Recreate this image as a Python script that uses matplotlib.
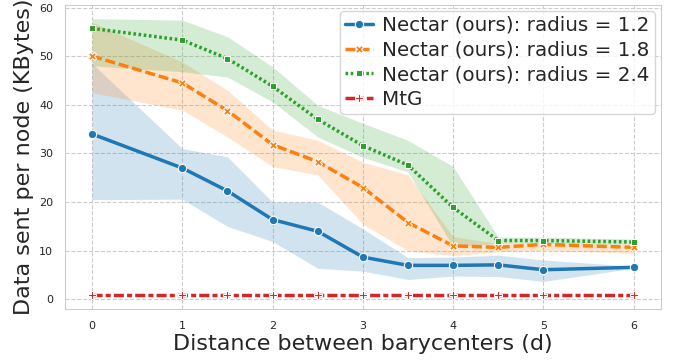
import matplotlib
matplotlib.use('Agg')
import matplotlib.pyplot as plt
import seaborn as sns

distance = [0, 1, 1.5, 2, 2.5, 3, 3.5, 4, 4.5, 5, 6]

r12_mean = [34.0, 27.0, 22.3, 16.4, 14.0, 8.7, 7.0, 7.0, 7.1, 6.1, 6.6]
r12_low = [20.5, 20.6, 15.0, 11.9, 6.4, 5.8, 4.1, 4.8, 4.7, 3.7, 6.4]
r12_high = [48.5, 31.0, 29.3, 20.0, 20.0, 14.5, 8.6, 8.7, 9.1, 8.1, 6.8]

r18_mean = [50.0, 44.5, 38.8, 31.8, 28.3, 23.0, 15.8, 11.0, 10.7, 11.3, 10.7]
r18_low = [42.5, 38.9, 33.4, 27.3, 25.6, 15.5, 10.0, 9.0, 9.8, 10.1, 9.5]
r18_high = [57.0, 48.8, 43.0, 34.8, 32.7, 28.2, 25.6, 12.9, 11.5, 11.6, 11.3]

r24_mean = [55.7, 53.3, 49.5, 43.8, 37.0, 31.6, 27.6, 18.9, 12.1, 12.1, 11.8]
r24_low = [48.0, 46.8, 45.7, 40.6, 33.4, 29.2, 26.2, 10.8, 11.5, 11.5, 11.3]
r24_high = [57.7, 57.4, 54.0, 47.8, 39.9, 36.2, 32.7, 27.3, 12.8, 12.8, 12.4]

mtg_mean = [1.0, 1.0, 1.0, 1.0, 1.0, 1.0, 1.0, 1.0, 1.0, 1.0, 1.0]

labels = ['Nectar (ours): radius = 1.2', 'Nectar (ours): radius = 1.8',
          'Nectar (ours): radius = 2.4', 'MtG']


def draw_chart(filename):
    sns.set_style('whitegrid', {'grid.linestyle': '--'})
    fig, ax = plt.subplots(figsize=(6.77, 3.62), dpi=100)
    fig.subplots_adjust(left=0.096, right=0.976, bottom=0.146, top=0.986)

    series = [
        (r12_mean, r12_low, r12_high, '#1f77b4', 'o', 6, (None, None)),
        (r18_mean, r18_low, r18_high, '#ff7f0e', 'X', 6, (2.9, 1.1)),
        (r24_mean, r24_low, r24_high, '#2ca02c', (4, 0, 45), 7, (0.75, 0.75)),
        (mtg_mean, None, None, '#d62728', 'P', 6, (2.9, 0.9, 1.45, 0.9)),
    ]
    for (mean, low, high, color, marker, msize, dashes), label in zip(series, labels):
        if low is not None:
            ax.fill_between(distance, low, high, color=color, alpha=0.2, linewidth=0)
        line, = ax.plot(distance, mean, color=color, marker=marker, markersize=msize,
                        markeredgecolor='white', markeredgewidth=0.75,
                        linewidth=2.5, label=label)
        if dashes[0] is not None:
            line.set_dashes(dashes)

    ax.set_xlim(-0.3, 6.3)
    ax.set_ylim(-2, 60.5)
    ax.set_yticks([0, 10, 20, 30, 40, 50, 60])
    ax.tick_params(labelsize=8, pad=5)
    ax.set_xlabel('Distance between barycenters (d)', fontsize=16, labelpad=2)
    ax.set_ylabel('Data sent per node (KBytes)', fontsize=16)
    ax.legend(loc='upper right', fontsize=14.3, handlelength=1.4, handletextpad=0.5,
              borderpad=0.25, labelspacing=0.28, borderaxespad=0.3)
    plt.savefig(filename)


if __name__ == "__main__":
    draw_chart('out.png')
